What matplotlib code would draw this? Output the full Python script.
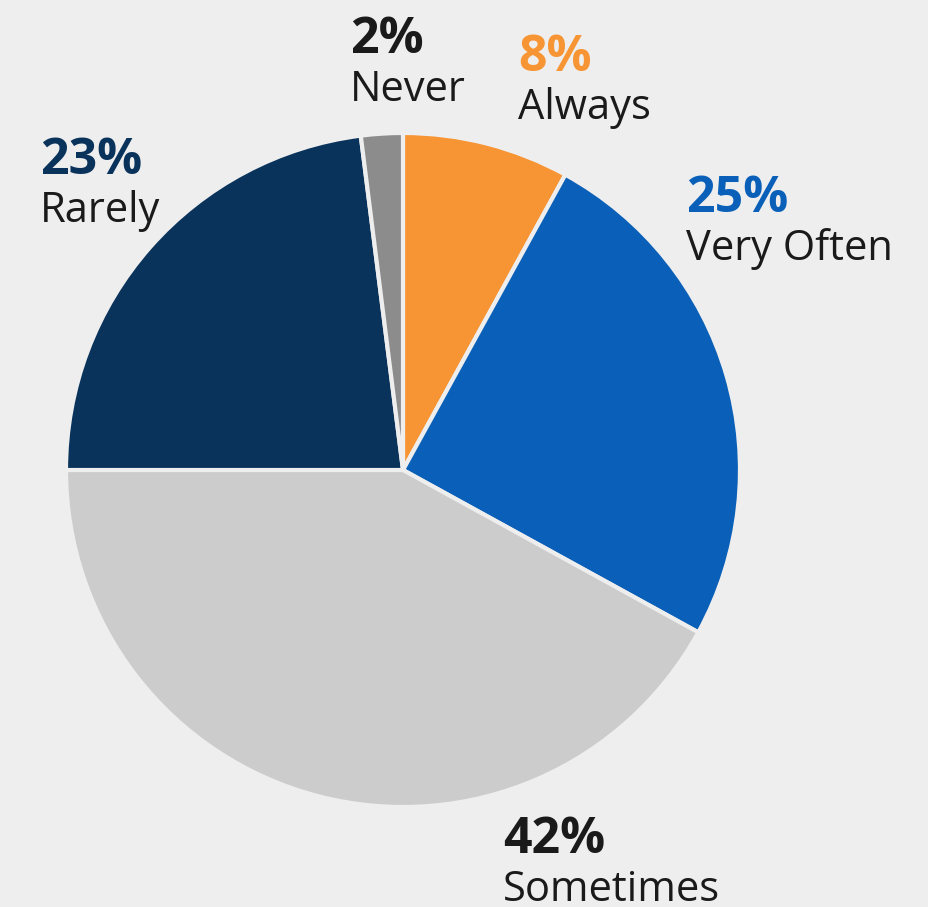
import matplotlib.pyplot as plt

# survey answers, clockwise from the top
labels = ['Always', 'Very Often', 'Sometimes', 'Rarely', 'Never']
shares = [8, 25, 42, 23, 2]
colors = ['#f79433', '#0a60b8', '#cccccc', '#0a335c', '#8c8c8c']
pct_colors = ['#f79433', '#0a60b8', '#1a1a1a', '#0a335c', '#1a1a1a']
# label anchor: left edge and baseline of the percentage, in pixels from top-left
label_xy = [(518, 71), (686, 212), (503, 853), (40, 174), (350, 53)]

W, H = 929, 907
bg = '#eeeeee'

plt.rcParams['font.family'] = ['Open Sans', 'DejaVu Sans']

fig = plt.figure(figsize=(W / 100, H / 100), dpi=100, facecolor=bg)

# pie centre and radius in pixels
cx, cy, r = 403, 470, 337
ax = fig.add_axes([(cx - r) / W, (H - cy - r) / H, 2 * r / W, 2 * r / H])
ax.set_facecolor(bg)
ax.pie(shares, colors=colors, startangle=90, counterclock=False,
       radius=1, wedgeprops=dict(edgecolor=bg, linewidth=3))
ax.set_xlim(-1, 1)
ax.set_ylim(-1, 1)
ax.set_aspect('equal')
ax.axis('off')

for lab, val, pc, (x, y) in zip(labels, shares, pct_colors, label_xy):
    fig.text(x / W, 1 - y / H, f'{val}%', color=pc, fontsize=36,
             fontweight='bold', ha='left', va='baseline')
    fig.text(x / W, 1 - (y + 48) / H, lab, color='#1a1a1a', fontsize=30,
             ha='left', va='baseline')

plt.savefig('out.png', dpi=100, facecolor=bg)
